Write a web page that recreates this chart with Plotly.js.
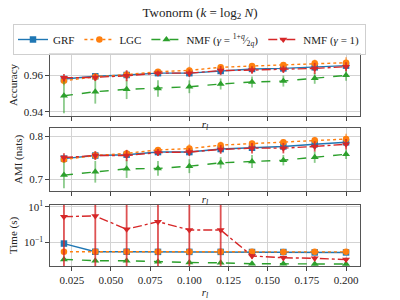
<!DOCTYPE html>
<html><head><meta charset="utf-8">
<script src="https://cdn.plot.ly/plotly-3.0.1.min.js"></script>
<style>html,body{margin:0;padding:0;background:#fff}#c{width:400px;height:300px}</style>
</head><body><div id="c"></div>
<script>
const rl = [0.02,0.04,0.06,0.08,0.10,0.12,0.14,0.16,0.18,0.20];
const names = ['GRF','LGC','NMF (<i>γ</i> = <sup>1+<i>q</i></sup>⁄<sub>2<i>q</i></sub>)','NMF (<i>γ</i> = 1)'];

const accGRF  = [0.9578,0.9593,0.9600,0.9610,0.9610,0.9622,0.9633,0.9636,0.9642,0.9651];
const accLGC  = [0.9569,0.9590,0.9602,0.9618,0.9625,0.9642,0.9649,0.9655,0.9664,0.9667];
const accNMFg = [0.9487,0.9509,0.9522,0.9527,0.9536,0.9551,0.9562,0.9567,0.9582,0.9598];
const accNMF1 = [0.9585,0.9587,0.9596,0.9610,0.9610,0.9624,0.9627,0.9631,0.9636,0.9645];
const accErrGRF  = [0.0015,0.0012,0.0012,0.001,0.001,0.001,0.001,0.001,0.001,0.001];
const accErrLGC  = [0.0025,0.002,0.002,0.0015,0.002,0.0015,0.0015,0.0015,0.002,0.003];
const accErrNMFg = [0.0095,0.0065,0.0053,0.0045,0.0035,0.003,0.003,0.003,0.003,0.003];
const accErrNMF1 = [0.002,0.002,0.003,0.0015,0.002,0.0025,0.002,0.002,0.003,0.0025];

const amiGRF  = [0.748,0.755,0.757,0.763,0.763,0.770,0.773,0.776,0.781,0.7855];
const amiLGC  = [0.746,0.755,0.760,0.768,0.771,0.779,0.7825,0.7855,0.790,0.793];
const amiNMFg = [0.7099,0.7176,0.7244,0.7252,0.7305,0.7382,0.7412,0.7443,0.7511,0.758];
const amiNMF1 = [0.7504,0.755,0.755,0.762,0.763,0.769,0.772,0.772,0.776,0.781];
const amiErrGRF  = [0.005,0.005,0.005,0.005,0.005,0.005,0.005,0.005,0.005,0.005];
const amiErrLGC  = [0.008,0.01,0.008,0.006,0.01,0.008,0.007,0.007,0.008,0.012];
const amiErrNMFg = [0.03,0.025,0.021,0.017,0.016,0.013,0.015,0.012,0.013,0.011];
const amiErrNMF1 = [0.01,0.01,0.013,0.008,0.009,0.01,0.012,0.012,0.012,0.012];

const timeGRF  = [0.085,0.0295,0.0295,0.029,0.029,0.029,0.0285,0.0285,0.027,0.027];
const timeLGC  = [0.0295,0.0295,0.029,0.029,0.029,0.029,0.029,0.0285,0.029,0.029];
const timeNMFg = [0.011,0.0093,0.0092,0.0081,0.0073,0.0071,0.0063,0.0062,0.0061,0.006];
const timeNMF1 = [2.75,3.0,0.54,1.44,0.49,0.49,0.0171,0.0135,0.0127,0.0107];
const timeErrGRF  = [0.004,0.002,0.002,0.002,0.002,0.002,0.002,0.002,0.002,0.002];
const timeErrLGC  = [0.002,0.002,0.002,0.002,0.002,0.002,0.002,0.002,0.002,0.002];
const timeErrNMFg = [0.001,0.001,0.001,0.001,0.001,0.001,0.001,0.001,0.001,0.001];
const timeErrNMF1 = [15,15,12,15,12,12,0.005,0.004,0.004,0.003];

const xTicks = [0.025,0.05,0.075,0.1,0.125,0.15,0.175,0.2];

const colors = ['#1f77b4','#ff7f0e','#2ca02c','#d62728'];
const errCols = ['rgba(31,119,180,0.55)','rgba(255,127,14,0.55)','rgba(44,160,44,0.55)','rgba(214,39,40,0.8)'];
const symbols = ['square','circle','triangle-up','triangle-down'];
const dashes = ['solid','dot','dash','dashdot'];

const panels = [
  {ys:[accGRF,accLGC,accNMFg,accNMF1], es:[accErrGRF,accErrLGC,accErrNMFg,accErrNMF1], ax:''},
  {ys:[amiGRF,amiLGC,amiNMFg,amiNMF1], es:[amiErrGRF,amiErrLGC,amiErrNMFg,amiErrNMF1], ax:'2'},
  {ys:[timeGRF,timeLGC,timeNMFg,timeNMF1], es:[timeErrGRF,timeErrLGC,timeErrNMFg,timeErrNMF1], ax:'3', log:true}
];

const data = [];
panels.forEach((p,pi)=>{
  for(let s=0;s<4;s++){
    const err = p.es[s];
    const minus = p.log ? err.map((e,i)=>Math.min(e, p.ys[s][i]*0.999)) : err;
    data.push({
      x: rl, y: p.ys[s], type:'scatter', mode:'lines+markers',
      name: names[s], legendgroup: names[s], showlegend: pi===0,
      xaxis:'x'+p.ax, yaxis:'y'+p.ax,
      line:{color:colors[s], width:1.4, dash:dashes[s]},
      marker:{symbol:symbols[s], size:s>=2?7:6.5, color:colors[s]},
      error_y:{type:'data', symmetric:false, array:err, arrayminus:minus, color:errCols[s], thickness:1.8, width:0}
    });
  }
});

const font = {family:'"Liberation Serif", "DejaVu Serif", serif', size:11, color:'#222'};
function xax(showLabels, anchor){
  return {domain:[0,1], range:[0.0111,0.2089], anchor:anchor, tickvals:xTicks, ticktext:xTicks.map(v=>v.toFixed(3)),
    showticklabels:showLabels, ticks:'outside', ticklen:3.5, tickcolor:'#444',
    showgrid:true, gridcolor:'#d3d3d3', gridwidth:1, zeroline:false,
    showline:true, mirror:true, linecolor:'#555', linewidth:1.2,
    title:{text:'<i>r<sub>l</sub></i>', font:{size:11}, standoff: showLabels?3:0}, tickfont:{size:11}};
}
const layout = {
  width:400, height:300, margin:{l:50,r:40,t:54,b:34, autoexpand:false},
  paper_bgcolor:'#fff', plot_bgcolor:'#fff', font:font,
  title:{text:'Twonorm (<i>k</i> = log<sub>2</sub> <i>N</i>)', font:{size:13}, x:0.5, xanchor:'center', y:0.96, yanchor:'middle', yref:'container'},
  showlegend:true,
  legend:{orientation:'h', x:-0.1194, xanchor:'left', y:1.1415, yanchor:'top', bordercolor:'#cfcfcf', borderwidth:1, font:{size:11}, bgcolor:'rgba(255,255,255,0.8)'},
  xaxis: xax(false, 'y'),
  xaxis2: Object.assign(xax(false, 'y2'), {matches:'x'}),
  xaxis3: Object.assign(xax(true, 'y3'), {matches:'x'}),
  yaxis: {domain:[0.7075,1], anchor:'x', range:[0.93766,0.97144], tickvals:[0.94,0.96], ticktext:['0.94','0.96'],
    ticks:'outside', ticklen:3.5, tickcolor:'#444', showgrid:true, gridcolor:'#d3d3d3', zeroline:false,
    showline:true, mirror:true, linecolor:'#555', linewidth:1.2, title:{text:'Accuracy', font:{size:11}, standoff:4}},
  yaxis2: {domain:[0.354,0.651], anchor:'x2', range:[0.6734,0.8185], tickvals:[0.7,0.8], ticktext:['0.7','0.8'],
    ticks:'outside', ticklen:3.5, tickcolor:'#444', showgrid:true, gridcolor:'#d3d3d3', zeroline:false,
    showline:true, mirror:true, linecolor:'#555', linewidth:1.2, title:{text:'AMI (nats)', font:{size:11}, standoff:4}},
  yaxis3: {domain:[0,0.288], anchor:'x3', type:'log', range:[-2.33,1.0955], tickvals:[0.1,10], ticktext:['10<sup>−1</sup>','10<sup>1</sup>'],
    ticks:'outside', ticklen:3.5, tickcolor:'#444', showgrid:true, gridcolor:'#d3d3d3', zeroline:false,
    showline:true, mirror:true, linecolor:'#555', linewidth:1.2, title:{text:'Time (s)', font:{size:11}, standoff:4}}
};
Plotly.newPlot('c', data, layout, {displayModeBar:false, staticPlot:true});
</script></body></html>
